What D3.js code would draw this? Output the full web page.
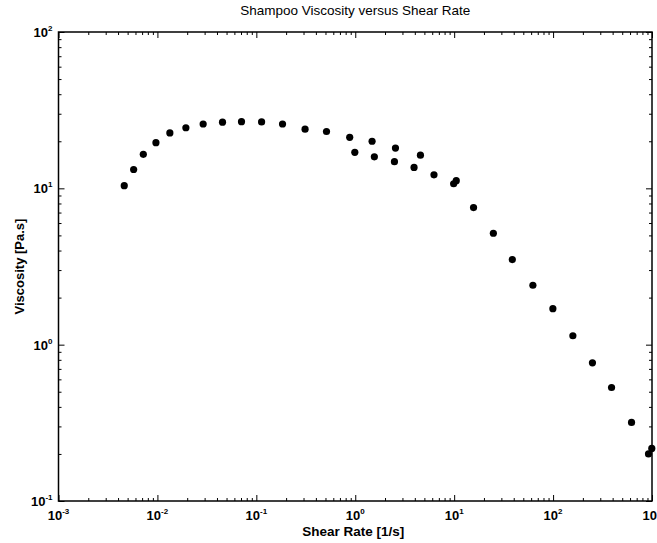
<!DOCTYPE html>
<html>
<head>
<meta charset="utf-8">
<script src="https://cdn.jsdelivr.net/npm/d3@7"></script>
<style>
  body { margin: 0; background: #fff; }
  svg { display: block; font-family: "Liberation Sans", Arial, sans-serif; }
</style>
</head>
<body>
<div id="chart"></div>
<script>
// values
const shearRate = [0.00462, 0.00575, 0.0072, 0.00966, 0.01336, 0.0194, 0.029, 0.0455,
  0.0708, 0.113, 0.184, 0.311, 0.512, 0.879, 0.99, 1.48, 1.56, 2.55, 2.49, 3.93, 4.56,
  6.25, 9.88, 10.5, 15.7, 24.9, 38.7, 62.5, 99.5, 158.5, 250, 390, 621, 922, 995];
const viscosity = [10.4, 13.2, 16.5, 19.6, 22.6, 24.4, 25.8, 26.5,
  26.7, 26.6, 25.8, 23.9, 23.1, 21.2, 17.0, 20.0, 15.9, 18.1, 14.8, 13.6, 16.3,
  12.2, 10.7, 11.2, 7.53, 5.16, 3.50, 2.40, 1.70, 1.14, 0.765, 0.532, 0.318, 0.200, 0.217];
const xTickExps = [-3, -2, -1, 0, 1, 2, 3];
const yTickExps = [-1, 0, 1, 2];

const data = shearRate.map((x, i) => ({ x: x, y: viscosity[i] }));

const W = 657, H = 543;
const margin = { top: 32, right: 5, bottom: 42, left: 58.5 };
const width = W - margin.left - margin.right;
const height = H - margin.top - margin.bottom;

const svg = d3.select("#chart").append("svg")
  .attr("width", W).attr("height", H);

const g = svg.append("g")
  .attr("transform", `translate(${margin.left},${margin.top})`);

const x = d3.scaleLog().domain([1e-3, 1e3]).range([0, width]);
const y = d3.scaleLog().domain([1e-1, 1e2]).range([height, 0]);

const minor = (s) => s.ticks().filter((v) => {
  const e = Math.log10(v);
  return Math.abs(e - Math.round(e)) > 1e-6;
});

// ticks pointing inward on all four sides
function addAxes(axisFn, scale, transform, vals, size) {
  const a = g.append("g").attr("transform", transform)
    .call(axisFn(scale).tickValues(vals).tickSize(size).tickFormat(""));
  a.select(".domain").remove();
  a.selectAll("line").attr("stroke", "#000").attr("stroke-width", 1);
}
const xMajor = xTickExps.map((e) => Math.pow(10, e));
const yMajor = yTickExps.map((e) => Math.pow(10, e));
addAxes(d3.axisBottom, x, `translate(0,${height})`, xMajor, -6);
addAxes(d3.axisBottom, x, `translate(0,${height})`, minor(x), -3);
addAxes(d3.axisTop, x, "translate(0,0)", xMajor, -6);
addAxes(d3.axisTop, x, "translate(0,0)", minor(x), -3);
addAxes(d3.axisLeft, y, "translate(0,0)", yMajor, -6);
addAxes(d3.axisLeft, y, "translate(0,0)", minor(y), -3);
addAxes(d3.axisRight, y, `translate(${width},0)`, yMajor, -6);
addAxes(d3.axisRight, y, `translate(${width},0)`, minor(y), -3);

g.append("rect")
  .attr("width", width).attr("height", height)
  .attr("fill", "none").attr("stroke", "#000").attr("stroke-width", 1.5);

// tick labels 10^n
const xl = g.selectAll(".xlab").data(xTickExps).enter().append("text")
  .attr("class", "xlab")
  .attr("x", (d) => x(Math.pow(10, d)))
  .attr("y", height + 19)
  .attr("text-anchor", "middle")
  .attr("font-size", 13).attr("font-weight", "bold");
xl.append("tspan").text("10");
xl.append("tspan").attr("dy", -6).attr("font-size", 8).text((d) => d);

const yl = g.selectAll(".ylab").data(yTickExps).enter().append("text")
  .attr("class", "ylab")
  .attr("x", -6)
  .attr("y", (d) => y(Math.pow(10, d)) + 5)
  .attr("text-anchor", "end")
  .attr("font-size", 13).attr("font-weight", "bold");
yl.append("tspan").text("10");
yl.append("tspan").attr("dy", -6).attr("font-size", 8).text((d) => d);

g.selectAll(".dot").data(data).enter().append("circle")
  .attr("class", "dot")
  .attr("cx", (d) => x(d.x))
  .attr("cy", (d) => y(d.y))
  .attr("r", 3.6)
  .attr("fill", "#000");

svg.append("text")
  .attr("x", margin.left + width / 2).attr("y", 15)
  .attr("text-anchor", "middle").attr("font-size", 13.5)
  .text("Shampoo Viscosity versus Shear Rate");

svg.append("text")
  .attr("x", margin.left + width / 2 - 2).attr("y", H - 7)
  .attr("text-anchor", "middle").attr("font-size", 13.5).attr("font-weight", "bold")
  .text("Shear Rate [1/s]");

svg.append("text")
  .attr("transform", `translate(24,${margin.top + height / 2}) rotate(-90)`)
  .attr("text-anchor", "middle").attr("font-size", 13).attr("font-weight", "bold")
  .text("Viscosity [Pa.s]");
</script>
</body>
</html>
